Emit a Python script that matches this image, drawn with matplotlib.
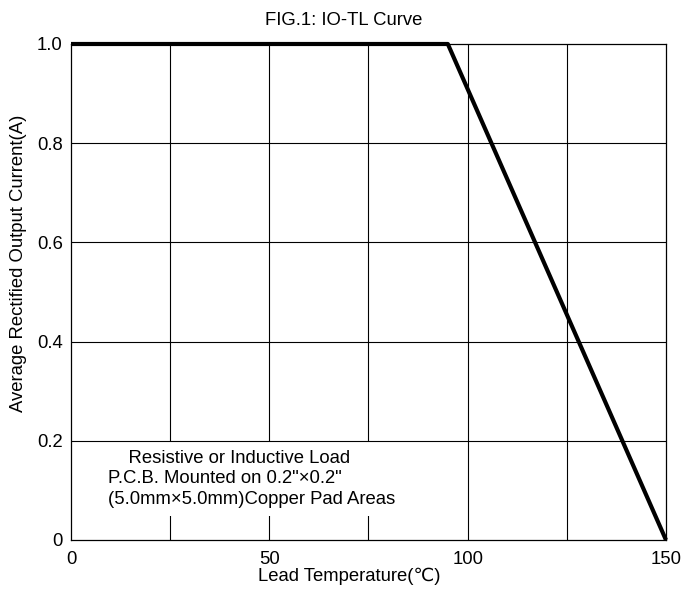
import matplotlib
matplotlib.use("Agg")
import matplotlib.pyplot as plt

plt.rcParams['font.family'] = ['Liberation Sans', 'DejaVu Sans']

# IO-TL derating curve
temp = [0, 95, 150]
current = [1.0, 1.0, 0.0]

x_ticks = [0, 50, 100, 150]
x_grid = [25, 50, 75, 100, 125]
y_ticks = [0, 0.2, 0.4, 0.6, 0.8, 1.0]
y_labels = ['0', '0.2', '0.4', '0.6', '0.8', '1.0']

note = ("    Resistive or Inductive Load\n"
        "P.C.B. Mounted on 0.2\"\u00d70.2\"\n"
        "(5.0mm\u00d75.0mm)Copper Pad Areas")

FS = 13.3

fig = plt.figure(figsize=(6.88, 5.89), dpi=100)
ax = fig.add_axes([0.1032, 0.0832, 0.8648, 0.8421])

# vertical grid under the note box, horizontal grid above it
for x in x_grid:
    ax.axvline(x, color='black', lw=0.8, zorder=1)
for y in y_ticks[1:-1]:
    ax.axhline(y, color='black', lw=0.8, zorder=2.5)

ax.text(9.3, 0.182, note, fontsize=FS, ha='left', va='top', linespacing=1.27,
        zorder=2, bbox=dict(boxstyle='square,pad=0.45', facecolor='white', edgecolor='none'))

ax.plot(temp, current, color='black', lw=3, zorder=3, clip_on=False,
        solid_capstyle='butt')

ax.set_xlim(0, 150)
ax.set_ylim(0, 1.0)
ax.set_xticks(x_ticks)
ax.set_xticklabels([str(v) for v in x_ticks])
ax.set_yticks(y_ticks)
ax.set_yticklabels(y_labels)
ax.tick_params(length=0, labelsize=FS)
ax.tick_params(axis='x', pad=8)
ax.tick_params(axis='y', pad=6)
for s in ax.spines.values():
    s.set_linewidth(0.9)

ax.set_xlabel('Lead Temperature(\u2103)', fontsize=FS)
ax.xaxis.set_label_coords(0.467, -0.0565)
ax.set_ylabel('Average Rectified Output Current(A)', fontsize=FS)
ax.yaxis.set_label_coords(-0.074, 0.557)

fig.text(0.385, 0.9576, 'FIG.1: IO-TL Curve', fontsize=FS, ha='left', va='baseline')

fig.savefig('out.png', dpi=100)
